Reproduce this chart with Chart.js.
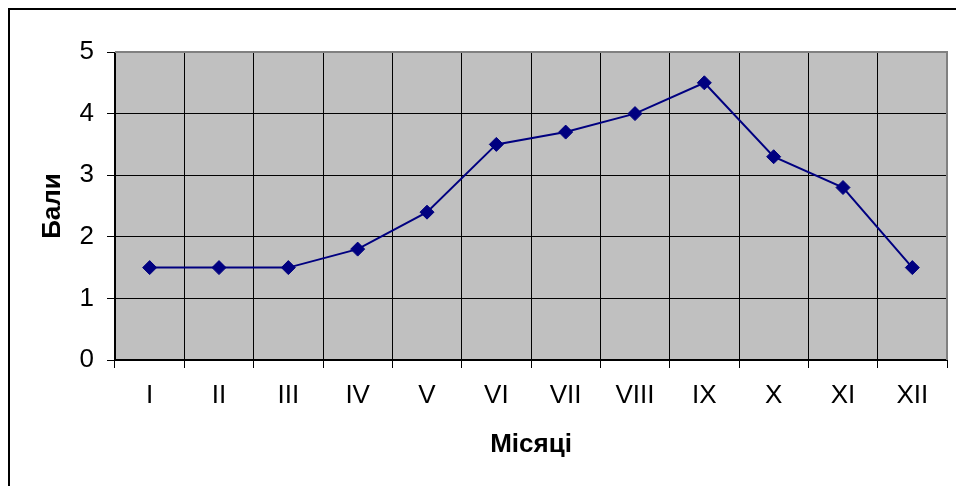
<!DOCTYPE html>
<html>
<head>
<meta charset="utf-8">
<script src="https://cdn.jsdelivr.net/npm/chart.js@4/dist/chart.umd.min.js"></script>
<style>
  html, body { margin: 0; padding: 0; background: #fff; }
  canvas { display: block; }
</style>
</head>
<body>
<canvas id="c" width="956" height="486"></canvas>
<script>
const months = ['I', 'II', 'III', 'IV', 'V', 'VI', 'VII', 'VIII', 'IX', 'X', 'XI', 'XII'];
const scores = [1.5, 1.5, 1.5, 1.8, 2.4, 3.5, 3.7, 4.0, 4.5, 3.3, 2.8, 1.5];
const yTicks = [0, 1, 2, 3, 4, 5];
const yTitle = 'Бали';
const xTitle = 'Місяці';

const FONT = "'Liberation Sans', Arial, sans-serif";

const frame = {
  id: 'frame',
  beforeDraw(chart) {
    const { ctx, chartArea: a } = chart;
    ctx.save();
    ctx.fillStyle = '#ffffff';
    ctx.fillRect(0, 0, chart.width, chart.height);
    ctx.fillStyle = '#c0c0c0';
    ctx.fillRect(a.left, a.top, a.right - a.left, a.bottom - a.top);
    ctx.restore();
  },
  afterDraw(chart) {
    const { ctx } = chart;
    ctx.save();
    ctx.strokeStyle = '#000';
    ctx.lineWidth = 2;
    ctx.beginPath();
    ctx.moveTo(9, chart.height + 2);
    ctx.lineTo(9, 9);
    ctx.lineTo(chart.width + 2, 9);
    ctx.stroke();
    ctx.restore();
  },
  beforeDatasetsDraw(chart) {
    const { ctx, chartArea: a } = chart;
    ctx.save();
    ctx.strokeStyle = '#808080';
    ctx.lineWidth = 2;
    ctx.beginPath();
    ctx.moveTo(a.left, a.top);
    ctx.lineTo(a.right, a.top);
    ctx.lineTo(a.right, a.bottom);
    ctx.stroke();
    ctx.restore();
  }
};

new Chart(document.getElementById('c'), {
  type: 'line',
  data: {
    labels: months,
    datasets: [{
      data: scores,
      borderColor: '#000080',
      backgroundColor: '#000080',
      borderWidth: 2,
      pointStyle: 'rectRot',
      pointRadius: 7,
      pointBorderWidth: 1,
      pointBackgroundColor: '#000080',
      pointBorderColor: '#000080',
      tension: 0,
      fill: false
    }]
  },
  options: {
    responsive: false,
    animation: false,
    devicePixelRatio: 1,
    layout: { padding: { top: 52, right: 9, bottom: 0, left: 0 } },
    plugins: { legend: { display: false }, tooltip: { enabled: false } },
    scales: {
      x: {
        type: 'category',
        offset: true,
        afterFit(s) { s.height = 126; },
        grid: { offset: true, color: '#000', lineWidth: 1, tickLength: 8, drawTicks: true },
        border: { display: true, color: '#000', width: 2 },
        ticks: { color: '#000', font: { family: FONT, size: 26 }, padding: 12, maxRotation: 0, autoSkip: false },
        title: { display: true, text: xTitle, color: '#000', font: { family: FONT, size: 26, weight: 'bold' }, padding: { top: 0, bottom: 26 } }
      },
      y: {
        min: 0,
        max: 5,
        afterFit(s) { s.width = 115; },
        afterBuildTicks(s) { s.ticks = yTicks.map(v => ({ value: v })); },
        grid: { color: '#000', lineWidth: 1, tickLength: 8 },
        border: { display: true, color: '#000', width: 1 },
        ticks: { color: '#000', font: { family: FONT, size: 26 }, padding: 13, stepSize: 1 },
        title: { display: true, text: yTitle, color: '#000', font: { family: FONT, size: 26, weight: 'bold' }, padding: { top: 37, bottom: 0 } }
      }
    }
  },
  plugins: [frame]
});
</script>
</body>
</html>
